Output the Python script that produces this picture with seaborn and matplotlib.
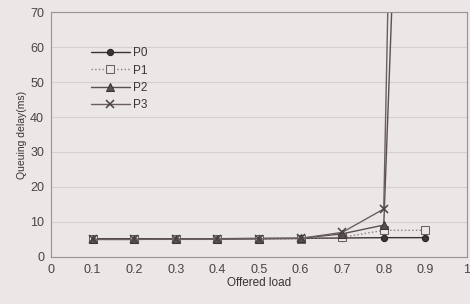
import matplotlib
matplotlib.use("Agg")
import matplotlib.pyplot as plt
import seaborn as sns
import pandas as pd

"""data"""
load = [0.1, 0.2, 0.3, 0.4, 0.5, 0.6, 0.7, 0.8, 0.9]
p0 = [5.2, 5.2, 5.2, 5.2, 5.3, 5.3, 5.4, 5.5, 5.5]
p1 = [5.0, 5.0, 5.0, 5.0, 5.1, 5.2, 5.6, 7.6, 7.6]
p2 = [5.0, 5.0, 5.1, 5.1, 5.2, 5.3, 6.6, 9.1, 330]
p3 = [5.0, 5.0, 5.1, 5.1, 5.2, 5.3, 7.0, 13.7, 600]
xticks = [0, 0.1, 0.2, 0.3, 0.4, 0.5, 0.6, 0.7, 0.8, 0.9, 1]
xtick_labels = ["0", "0.1", "0.2", "0.3", "0.4", "0.5", "0.6", "0.7", "0.8", "0.9", "1"]

sns.set_style("white")
plt.rcParams["font.family"] = ["Liberation Sans", "DejaVu Sans"]

bg = "#ebe7e6"
fig = plt.figure(figsize=(4.7, 3.04), dpi=100, facecolor=bg)
ax = fig.add_axes([0.1085, 0.155, 0.885, 0.805])
ax.set_facecolor(bg)

df = pd.DataFrame({"load": load, "P0": p0, "P1": p1, "P2": p2, "P3": p3})

"""series"""
sns.lineplot(data=df, x="load", y="P0", ax=ax, color="#3a3434", lw=1.0,
             marker="o", markersize=4.5, markeredgecolor="#2a2424", label="P0")
sns.lineplot(data=df, x="load", y="P1", ax=ax, color="#8a8282", lw=1.0, linestyle=":",
             marker="s", markersize=5.5, markerfacecolor=bg, markeredgecolor="#6a6262", label="P1")
sns.lineplot(data=df, x="load", y="P2", ax=ax, color="#5a5050", lw=1.0,
             marker="^", markersize=5.5, markeredgecolor="#3a3434", label="P2")
sns.lineplot(data=df, x="load", y="P3", ax=ax, color="#6a6060", lw=1.0,
             marker="x", markersize=5.5, markeredgewidth=1.1, markeredgecolor="#4a4242", label="P3")

ax.set_xlim(0, 1)
ax.set_ylim(0, 70)
ax.set_xticks(xticks)
ax.set_xticklabels(xtick_labels)
ax.set_yticks(range(0, 71, 10))
ax.yaxis.grid(True, color="#d6d0d0", lw=0.8)
ax.xaxis.grid(False)
for s in ax.spines.values():
    s.set_color("#9a9292")
    s.set_linewidth(0.8)
ax.tick_params(axis="both", labelsize=9, colors="#4a4444", length=0, pad=5)
ax.tick_params(axis="x", length=3, direction="in", color="#9a9292")

ax.set_xlabel("Offered load", fontsize=8.5, color="#3a3434", labelpad=1)
ax.set_ylabel("Queuing delay(ms)", fontsize=7.5, color="#3a3434", labelpad=2)

ax.legend(loc="upper left", bbox_to_anchor=(0.07, 0.9), frameon=False,
          fontsize=8.5, handlelength=3.3, labelspacing=0.45, handletextpad=0.3,
          labelcolor="#3a3434")

fig.savefig("out.png", dpi=100, facecolor=bg)
